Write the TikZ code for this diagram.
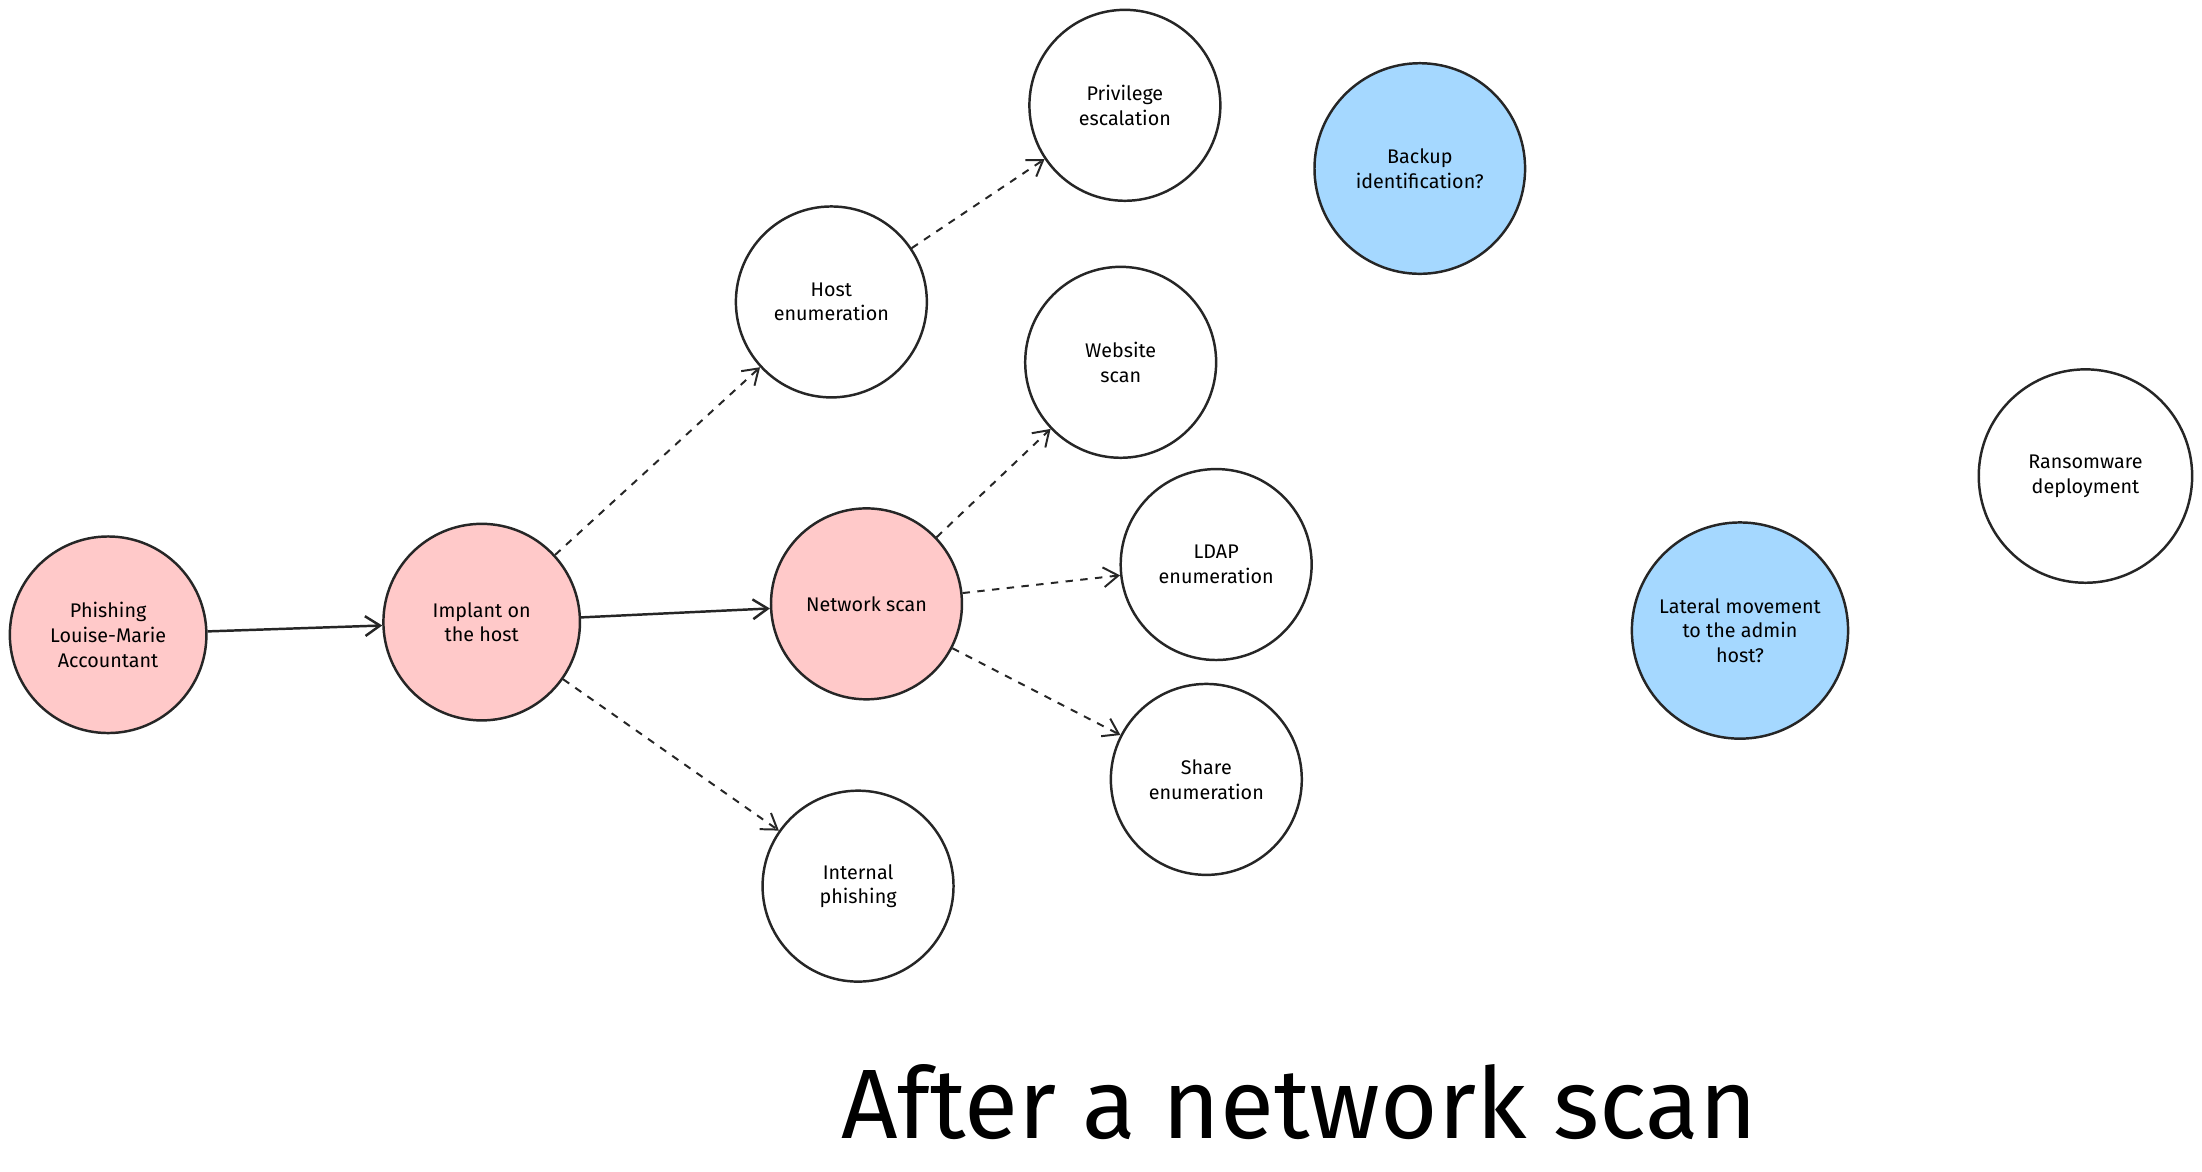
\documentclass[tikz,border=0pt]{standalone}
\usepackage{fontspec}
\setmainfont{Fira Sans}
\usetikzlibrary{arrows.meta}
\definecolor{pk}{HTML}{FFC9C9}
\definecolor{bl}{HTML}{A5D8FF}
\begin{document}
\begin{tikzpicture}[x=0.02cm,y=-0.02cm,
 st/.style={circle,draw=black!85,line width=1pt,align=center,font=\fontsize{8}{10}\selectfont,inner sep=1pt},
 pink/.style={fill=pk},
 blue/.style={fill=bl},
 sol/.style={-{Straight Barb[length=6pt,width=8pt]},line width=1pt,black!85},
 dsh/.style={sol,dashed,line width=0.8pt}]
\useasboundingbox (0,0) rectangle (1568,834);
\node[st,pink,minimum size=2.8cm] (ph) at (77,452) {Phishing\\Louise-Marie\\Accountant};
\node[st,pink,minimum size=2.8cm] (im) at (343,443) {Implant on\\the host};
\node[st,minimum size=2.72cm] (he) at (592,215) {Host\\enumeration};
\node[st,minimum size=2.72cm] (pe) at (801,75) {Privilege\\escalation};
\node[st,blue,minimum size=3cm] (bk) at (1011,120) {Backup\\identification?};
\node[st,minimum size=2.72cm] (ws) at (798,258) {Website\\scan};
\node[st,pink,minimum size=2.72cm] (ns) at (617,430) {Network scan};
\node[st,minimum size=2.72cm] (ld) at (866,402) {LDAP\\enumeration};
\node[st,minimum size=2.72cm] (sh) at (859,555) {Share\\enumeration};
\node[st,minimum size=2.72cm] (ip) at (611,631) {Internal\\phishing};
\node[st,blue,minimum size=3.08cm] (lm) at (1239,449) {Lateral movement\\to the admin\\host?};
\node[st,minimum size=3.04cm] (rw) at (1485,339) {Ransomware\\deployment};
\node[font=\fontsize{40}{44}\selectfont\fontseries{m}] (t) at (925,785) {After a network scan};
\draw[sol] (ph) -- (im);
\draw[sol] (im) -- (ns);
\draw[dsh] (im) -- (he);
\draw[dsh] (im) -- (ip);
\draw[dsh] (he) -- (pe);
\draw[dsh] (ns) -- (ws);
\draw[dsh] (ns) -- (ld);
\draw[dsh] (ns) -- (sh);
\end{tikzpicture}
\end{document}
